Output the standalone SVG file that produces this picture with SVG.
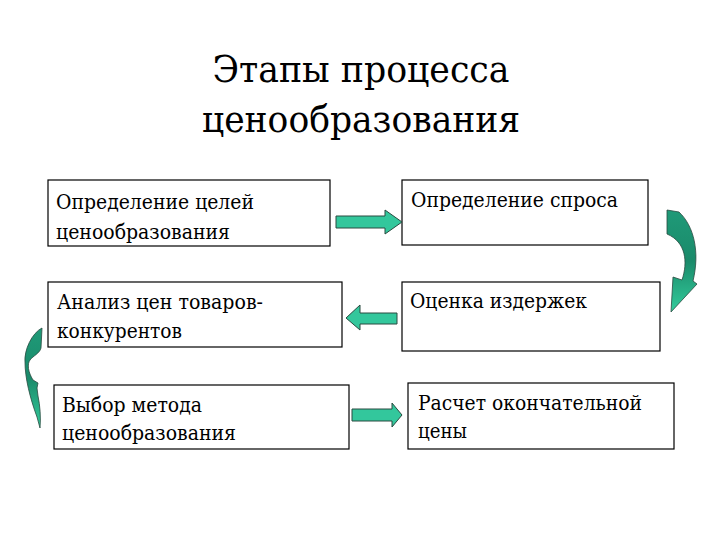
<svg xmlns="http://www.w3.org/2000/svg" width="720" height="540" viewBox="0 0 720 540">
<defs>
<style>
.box{fill:#fff;stroke:#000;stroke-width:1.2}
.t{font-family:'DejaVu Serif', 'Liberation Serif', serif;font-size:21px;fill:#000}
.title{font-family:'DejaVu Serif', 'Liberation Serif', serif;font-size:38px;fill:#000;text-anchor:middle}
.arr{fill:#33c79c;stroke:#2a4a40;stroke-width:1}
.carr{fill:url(#cg);stroke:#2a4a40;stroke-width:0.8}
</style>
<linearGradient id="cg" x1="0" y1="0" x2="0" y2="1">
<stop offset="0" stop-color="#1f9a78"/>
<stop offset="0.5" stop-color="#1a8a6a"/>
<stop offset="1" stop-color="#33cc9c"/>
</linearGradient>
</defs>
<rect width="720" height="540" fill="#fff"/>
<g id="title">
<text class="title" x="361" y="82" textLength="297" lengthAdjust="spacingAndGlyphs">Этапы процесса</text>
<text class="title" x="361" y="132" textLength="318" lengthAdjust="spacingAndGlyphs">ценообразования</text>
</g>
<g id="n1"><rect class="box" x="48" y="180" width="282" height="66"/><text class="t" x="56" y="209" textLength="198" lengthAdjust="spacingAndGlyphs">Определение целей</text><text class="t" x="56" y="239" textLength="174" lengthAdjust="spacingAndGlyphs">ценообразования</text></g>
<g id="n2"><rect class="box" x="402" y="180" width="246" height="65"/><text class="t" x="411" y="207" textLength="207" lengthAdjust="spacingAndGlyphs">Определение спроса</text></g>
<g id="n3"><rect class="box" x="48" y="282" width="294" height="65"/><text class="t" x="57" y="309" textLength="206" lengthAdjust="spacingAndGlyphs">Анализ цен товаров-</text><text class="t" x="57" y="338" textLength="125" lengthAdjust="spacingAndGlyphs">конкурентов</text></g>
<g id="n4"><rect class="box" x="402" y="282" width="258" height="69"/><text class="t" x="410" y="308" textLength="177" lengthAdjust="spacingAndGlyphs">Оценка издержек</text></g>
<g id="n5"><rect class="box" x="54" y="385" width="295" height="64"/><text class="t" x="62" y="412" textLength="140" lengthAdjust="spacingAndGlyphs">Выбор метода</text><text class="t" x="62" y="440" textLength="174" lengthAdjust="spacingAndGlyphs">ценообразования</text></g>
<g id="n6"><rect class="box" x="408" y="383" width="266" height="66"/><text class="t" x="418" y="410" textLength="224" lengthAdjust="spacingAndGlyphs">Расчет окончательной</text><text class="t" x="418" y="438" textLength="49" lengthAdjust="spacingAndGlyphs">цены</text></g>
<g id="connectors">
<path class="arr" d="M336,216 L385,216 L385,210 L402,222 L385,234 L385,228 L336,228 Z"/>
<path class="arr" d="M397,313 L360,313 L360,305 L346,318 L360,330 L360,324 L397,324 Z"/>
<path class="arr" d="M352,409 L392,409 L392,403 L402,415 L392,427 L392,421 L352,421 Z"/>
<path class="carr" d="M667,210 L679,212 C694,226 700,252 693,281 L697,284 L671,312 L673,277 L682,280 C688,262 686,242 667,234 Z"/>
<path class="carr" d="M42,328 C32,333 24,350 25,362 C25,378 30,398 37,417 L40,428 C41,418 40,405 38,396 L37,388 L38,383 L33,380 C28,372 27,364 30,360 C33,356 40,353 41,348 Z"/>
</g>
</svg>
